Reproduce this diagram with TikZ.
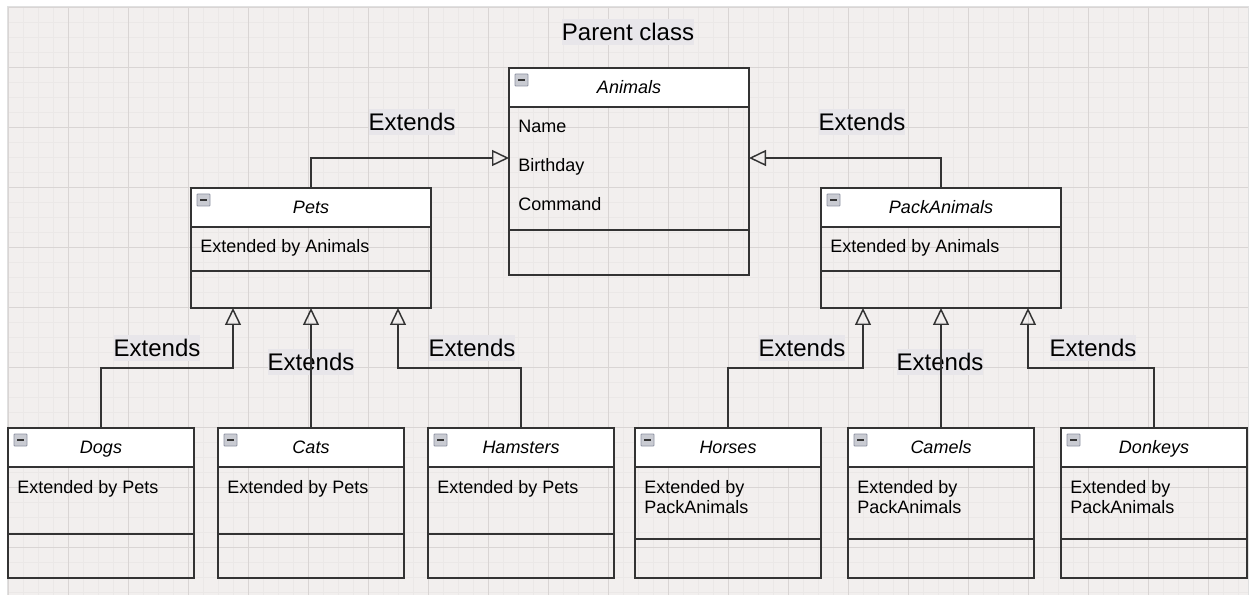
\documentclass[tikz,border=0pt]{standalone}
\usepackage{fontspec}
\setmainfont{Liberation Sans}
\usetikzlibrary{positioning,arrows.meta}

\definecolor{canvasbg}{HTML}{F2EFEE}
\definecolor{minorgrid}{HTML}{EBE8E7}
\definecolor{majorgrid}{HTML}{D9D5D4}
\definecolor{labelbg}{HTML}{E8E6EA}
\definecolor{linec}{HTML}{333333}
\definecolor{iconfill}{HTML}{C9CBD2}
\definecolor{iconline}{HTML}{8E93A3}

\tikzset{
  header/.style={draw=linec, fill=white, line width=1.1pt, outer sep=0pt, inner sep=0pt,
    minimum height=29.25pt, text height=10pt, text depth=1.5pt,
    font=\itshape\fontsize{13.5}{16}\selectfont,
    path picture={
      \draw[iconline, fill=iconfill, line width=0.6pt, rounded corners=0.6pt]
        ([xshift=4.5pt,yshift=-4.5pt]path picture bounding box.north west) rectangle ++(9.75pt,-9pt);
      \draw[linec, line width=1.4pt]
        ([xshift=6.9pt,yshift=-9pt]path picture bounding box.north west) -- ++(4.95pt,0);}},
  classbody/.style={draw=linec, line width=1.1pt, outer sep=0pt, inner sep=0pt},
  attr/.style={inner sep=0pt, anchor=base west, align=left, font=\fontsize{13.5}{15}\selectfont},
  divider/.style={linec, line width=0.9pt},
  extlabel/.style={fill=labelbg, inner sep=0pt, minimum height=19.5pt, font=\fontsize{18}{21}\selectfont},
  extends/.style={linec, line width=1.1pt, -{Triangle[open, length=12.75pt, width=12pt, line width=1.1pt]}}
}

\begin{document}
\begin{tikzpicture}[x=0.75pt, y=-0.75pt]
\useasboundingbox (0,0) rectangle (1253,595);
\fill[white] (0,0) rectangle (1253,595);

%% canvas with grid
\draw[black!12, line width=1.5pt] (8,7) rectangle (1248,600);
\begin{scope}
\clip (8,7) rectangle (1248,595);
\fill[canvasbg] (8,7) rectangle (1248,595);
\foreach \k in {0,...,83} \draw[minorgrid, line width=0.75pt] (8.7+15*\k,7) -- (8.7+15*\k,595);
\foreach \k in {0,...,40} \draw[minorgrid, line width=0.75pt] (8,7.3+15*\k) -- (1248,7.3+15*\k);
\foreach \k in {0,...,20} \draw[majorgrid, line width=0.75pt] (8.7+60*\k,7) -- (8.7+60*\k,595);
\foreach \k in {0,...,10} \draw[majorgrid, line width=0.75pt] (8,7.3+60*\k) -- (1248,7.3+60*\k);
\end{scope}

%% parent class
\node[header, minimum width=180pt] (animals) at (629,87.5) {Animals};
\node[classbody, minimum width=180pt, minimum height=126pt, below=0pt of animals] (animalsbody) {};
\draw[divider] ([yshift=33.75pt]animalsbody.south west) -- ([yshift=33.75pt]animalsbody.south east);
\node[attr] (animalsname) at (518,133) {Name};
\node[attr] (animalsbirth) at (518,172) {Birthday};
\node[attr] (animalscmd) at (518,211) {Command};

%% second level
\node[header, minimum width=180pt] (pets) at (311,207.5) {Pets};
\node[classbody, minimum width=180pt, minimum height=60.75pt, below=0pt of pets] (petsbody) {};
\draw[divider] ([yshift=27.75pt]petsbody.south west) -- ([yshift=27.75pt]petsbody.south east);
\node[attr] (petsattr) at (200,253) {Extended by Animals};

\node[header, minimum width=180pt] (pack) at (941,207.5) {PackAnimals};
\node[classbody, minimum width=180pt, minimum height=60.75pt, below=0pt of pack] (packbody) {};
\draw[divider] ([yshift=27.75pt]packbody.south west) -- ([yshift=27.75pt]packbody.south east);
\node[attr] (packattr) at (830,253) {Extended by Animals};

%% third level
\node[header, minimum width=139.5pt] (dogs) at (101,447.5) {Dogs};
\node[classbody, minimum width=139.5pt, minimum height=83.25pt, below=0pt of dogs] (dogsbody) {};
\draw[divider] ([yshift=33pt]dogsbody.south west) -- ([yshift=33pt]dogsbody.south east);
\node[attr] (dogsattr) at (17,493) {Extended by Pets};

\node[header, minimum width=139.5pt] (cats) at (311,447.5) {Cats};
\node[classbody, minimum width=139.5pt, minimum height=83.25pt, below=0pt of cats] (catsbody) {};
\draw[divider] ([yshift=33pt]catsbody.south west) -- ([yshift=33pt]catsbody.south east);
\node[attr] (catsattr) at (227,493) {Extended by Pets};

\node[header, minimum width=139.5pt] (hamsters) at (521,447.5) {Hamsters};
\node[classbody, minimum width=139.5pt, minimum height=83.25pt, below=0pt of hamsters] (hamstersbody) {};
\draw[divider] ([yshift=33pt]hamstersbody.south west) -- ([yshift=33pt]hamstersbody.south east);
\node[attr] (hamstersattr) at (437,493) {Extended by Pets};

\node[header, minimum width=139.5pt] (horses) at (728,447.5) {Horses};
\node[classbody, minimum width=139.5pt, minimum height=83.25pt, below=0pt of horses] (horsesbody) {};
\draw[divider] ([yshift=29.25pt]horsesbody.south west) -- ([yshift=29.25pt]horsesbody.south east);
\node[attr] (horsesattr) at (644,513) {Extended by\\PackAnimals};

\node[header, minimum width=139.5pt] (camels) at (941,447.5) {Camels};
\node[classbody, minimum width=139.5pt, minimum height=83.25pt, below=0pt of camels] (camelsbody) {};
\draw[divider] ([yshift=29.25pt]camelsbody.south west) -- ([yshift=29.25pt]camelsbody.south east);
\node[attr] (camelsattr) at (857,513) {Extended by\\PackAnimals};

\node[header, minimum width=139.5pt] (donkeys) at (1154,447.5) {Donkeys};
\node[classbody, minimum width=139.5pt, minimum height=83.25pt, below=0pt of donkeys] (donkeysbody) {};
\draw[divider] ([yshift=29.25pt]donkeysbody.south west) -- ([yshift=29.25pt]donkeysbody.south east);
\node[attr] (donkeysattr) at (1070,513) {Extended by\\PackAnimals};

%% labels
\node[extlabel] (title) at (628,32) {Parent class};
\node[extlabel] (ext1) at (412,122) {Extends};
\node[extlabel] (ext2) at (862,122) {Extends};
\node[extlabel] (ext3) at (157,348) {Extends};
\node[extlabel] (ext4) at (311,362) {Extends};
\node[extlabel] (ext5) at (472,348) {Extends};
\node[extlabel] (ext6) at (802,348) {Extends};
\node[extlabel] (ext7) at (940,362) {Extends};
\node[extlabel] (ext8) at (1093,348) {Extends};

%% connectors
\draw[extends] (pets.north) |- ([yshift=-38.25pt]animalsbody.north west);
\draw[extends] (pack.north) |- ([yshift=-38.25pt]animalsbody.north east);
\draw[extends] (dogs.north) |- ++(0,-60) -| ([xshift=-58.5pt]petsbody.south);
\draw[extends] (cats.north) -- (petsbody.south);
\draw[extends] (hamsters.north) |- ++(0,-60) -| ([xshift=65.25pt]petsbody.south);
\draw[extends] (horses.north) |- ++(0,-60) -| ([xshift=-58.5pt]packbody.south);
\draw[extends] (camels.north) -- (packbody.south);
\draw[extends] (donkeys.north) |- ++(0,-60) -| ([xshift=65.25pt]packbody.south);
\end{tikzpicture}
\end{document}
